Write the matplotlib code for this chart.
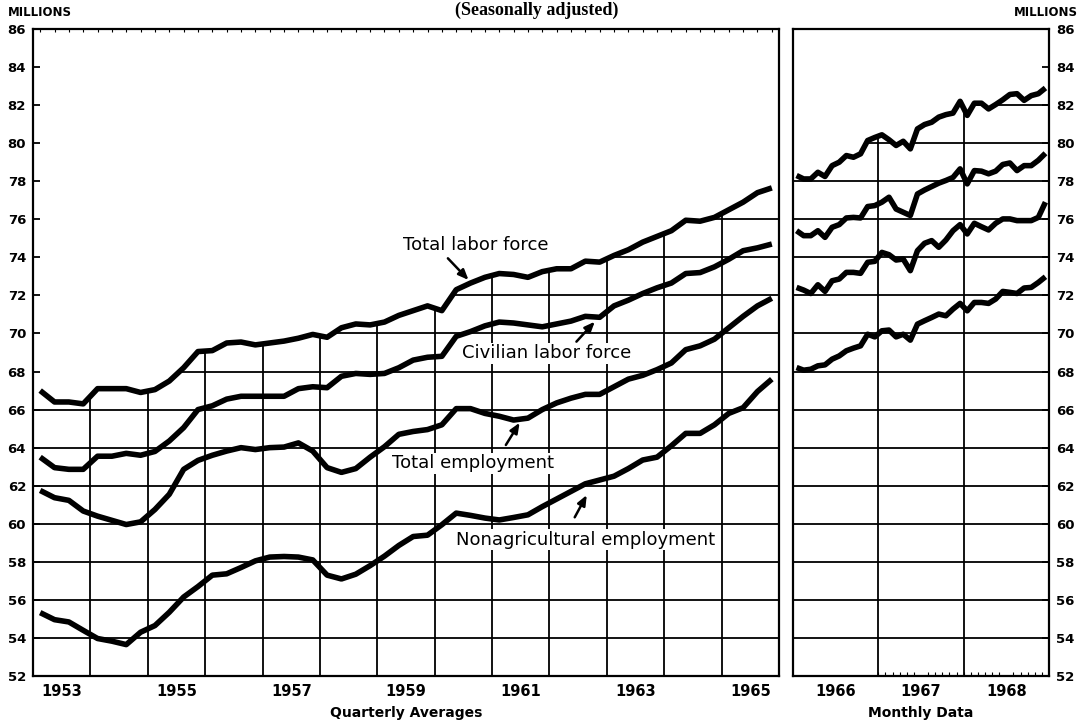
import numpy as np
import matplotlib
matplotlib.use("Agg")
import matplotlib.pyplot as plt
from matplotlib.patches import Polygon

# quarterly averages 1953-1965 (millions)
q_years = np.arange(1953, 1966)
total_labor_force_q = [67.0, 66.4, 66.4, 66.3, 67.1, 67.1, 67.1, 66.9, 67.05, 67.5, 68.2, 69.05,
                       69.1, 69.5, 69.55, 69.4, 69.5, 69.6, 69.75, 69.95, 69.8, 70.3, 70.5, 70.45,
                       70.6, 70.95, 71.2, 71.45, 71.2, 72.3, 72.65, 72.95, 73.15, 73.1, 72.95, 73.25,
                       73.4, 73.4, 73.8, 73.75, 74.1, 74.4, 74.8, 75.1, 75.4, 75.95, 75.9, 76.1,
                       76.5, 76.9, 77.4, 77.65]
civilian_labor_force_q = [63.5, 62.95, 62.86, 62.86, 63.55, 63.55, 63.7, 63.6, 63.8, 64.35, 65.05, 66.0,
                          66.2, 66.55, 66.7, 66.7, 66.7, 66.7, 67.1, 67.2, 67.15, 67.75, 67.9, 67.85,
                          67.9, 68.2, 68.6, 68.75, 68.8, 69.85, 70.1, 70.4, 70.6, 70.55, 70.45, 70.35,
                          70.5, 70.65, 70.9, 70.85, 71.45, 71.75, 72.1, 72.4, 72.65, 73.15, 73.2, 73.5,
                          73.9, 74.35, 74.5, 74.7]
total_employment_q = [61.75, 61.37, 61.23, 60.67, 60.4, 60.18, 59.96, 60.1, 60.75, 61.55, 62.86, 63.33,
                      63.6, 63.82, 64.0, 63.9, 64.0, 64.03, 64.25, 63.82, 62.95, 62.7, 62.9, 63.5,
                      64.05, 64.7, 64.85, 64.95, 65.2, 66.05, 66.05, 65.8, 65.65, 65.45, 65.55, 66.0,
                      66.35, 66.6, 66.8, 66.8, 67.2, 67.6, 67.8, 68.1, 68.45, 69.15, 69.35, 69.7,
                      70.3, 70.9, 71.45, 71.85]
nonag_employment_q = [55.33, 54.96, 54.84, 54.4, 53.97, 53.83, 53.65, 54.3, 54.65, 55.35, 56.15, 56.7,
                      57.3, 57.37, 57.7, 58.05, 58.25, 58.28, 58.25, 58.1, 57.3, 57.1, 57.35, 57.8,
                      58.3, 58.86, 59.33, 59.4, 59.95, 60.56, 60.44, 60.3, 60.2, 60.33, 60.47, 60.9,
                      61.3, 61.7, 62.1, 62.3, 62.5, 62.9, 63.35, 63.5, 64.1, 64.75, 64.75, 65.2,
                      65.8, 66.1, 66.95, 67.6]

# monthly data 1966-1968 (millions)
m_years = np.arange(1966, 1969)
total_labor_force_m = [78.3, 78.12, 78.12, 78.47, 78.25, 78.82, 79.0, 79.35, 79.26, 79.44, 80.14, 80.3,
                       80.44, 80.18, 79.88, 80.1, 79.7, 80.75, 80.98, 81.1, 81.37, 81.5, 81.58, 82.2,
                       81.46, 82.1, 82.1, 81.8, 82.03, 82.28, 82.56, 82.6, 82.25, 82.5, 82.6, 82.9]
civilian_labor_force_m = [75.4, 75.14, 75.14, 75.4, 75.05, 75.58, 75.72, 76.07, 76.1, 76.07, 76.67, 76.72,
                          76.9, 77.16, 76.54, 76.37, 76.2, 77.33, 77.54, 77.72, 77.9, 78.04, 78.2, 78.65,
                          77.86, 78.56, 78.53, 78.39, 78.53, 78.88, 78.96, 78.56, 78.82, 78.82, 79.1, 79.47]
total_employment_m = [72.42, 72.28, 72.1, 72.56, 72.21, 72.77, 72.86, 73.21, 73.21, 73.16, 73.74, 73.79,
                      74.26, 74.14, 73.86, 73.91, 73.3, 74.35, 74.74, 74.88, 74.53, 74.91, 75.4, 75.72,
                      75.23, 75.79, 75.61, 75.44, 75.79, 76.02, 76.02, 75.93, 75.93, 75.93, 76.1, 76.9]
nonag_employment_m = [68.21, 68.07, 68.12, 68.3, 68.35, 68.65, 68.82, 69.09, 69.23, 69.35, 69.96, 69.82,
                      70.14, 70.18, 69.82, 69.96, 69.65, 70.49, 70.67, 70.84, 71.02, 70.93, 71.28, 71.58,
                      71.19, 71.63, 71.63, 71.58, 71.81, 72.21, 72.16, 72.1, 72.39, 72.42, 72.68, 72.98]

y_ticks = np.arange(52, 87, 2)
LW = 4.0


def grid_below(ax, x, top, x0, x1, vyears):
    # grid only shows underneath the top curve, like the printed chart
    verts = [(x0, top[0])] + list(zip(x, top)) + [(x1, top[-1]), (x1, 52), (x0, 52)]
    clip = Polygon(verts, closed=True, transform=ax.transData, fill=False, lw=0)
    ax.add_patch(clip)
    h = ax.hlines(y_ticks[1:-1], x0, x1, colors="black", lw=1.3, zorder=1)
    v = ax.vlines(vyears, 52, 86, colors="black", lw=1.3, zorder=1)
    h.set_clip_path(clip)
    v.set_clip_path(clip)


fig = plt.figure(figsize=(10.87, 7.24), dpi=100)
ax1 = fig.add_axes([33 / 1087, 48 / 724, 746 / 1087, 647 / 724])
ax2 = fig.add_axes([793 / 1087, 48 / 724, 256 / 1087, 647 / 724])

# quarterly panel
xq = (q_years[:, None] + np.array([0.125, 0.375, 0.625, 0.875])).ravel()
for s in [total_labor_force_q, civilian_labor_force_q, total_employment_q, nonag_employment_q]:
    ax1.plot(xq, s, color="black", lw=LW, solid_joinstyle="round", solid_capstyle="butt", zorder=3)
grid_below(ax1, xq, total_labor_force_q, 1953, 1966, q_years[1:])
ax1.set_xlim(1953, 1966)
ax1.set_ylim(52, 86)
ax1.set_yticks(y_ticks)
ax1.set_xticks(q_years[::2] + 0.5)
ax1.set_xticklabels([str(y) for y in q_years[::2]])
ax1.set_xticks(xq, minor=True)
ax1.tick_params(axis="y", direction="in", length=5, width=1.3, pad=5, labelsize=9.5)
ax1.tick_params(axis="x", which="major", length=0, pad=6, labelsize=10.5)
ax1.tick_params(axis="x", which="minor", direction="in", length=2.5, width=0.8,
                top=True, bottom=False)

# monthly panel
xm = (m_years[:, None] + (np.arange(12) + 0.5) / 12).ravel()
for s in [total_labor_force_m, civilian_labor_force_m, total_employment_m, nonag_employment_m]:
    ax2.plot(xm, s, color="black", lw=LW, solid_joinstyle="round", solid_capstyle="butt", zorder=3)
grid_below(ax2, xm, total_labor_force_m, 1966, 1969, m_years[1:])
ax2.set_xlim(1966, 1969)
ax2.set_ylim(52, 86)
ax2.set_yticks(y_ticks)
ax2.yaxis.tick_right()
ax2.set_xticks(m_years + 0.5)
ax2.set_xticklabels([str(y) for y in m_years])
ax2.set_xticks(np.arange(1967, 1969, 1 / 12), minor=True)
ax2.tick_params(axis="y", direction="in", length=5, width=1.3, pad=5, labelsize=9.5)
ax2.tick_params(axis="x", which="major", length=0, pad=6, labelsize=10.5)
ax2.tick_params(axis="x", which="minor", direction="in", length=3, width=0.8)

for ax in (ax1, ax2):
    for sp in ax.spines.values():
        sp.set_linewidth(1.6)
    for lab in ax.get_xticklabels() + ax.get_yticklabels():
        lab.set_fontweight("bold")

# curve labels, knocked out of the grid
txt = dict(fontsize=13, color="black", va="center", ha="left", zorder=2,
           bbox=dict(facecolor="white", edgecolor="none", pad=1))
arr = dict(arrowstyle="-|>,head_length=0.6,head_width=0.25", color="black", lw=1.8, shrinkA=0, shrinkB=0)
ax1.text(1959.45, 74.65, "Total labor force", **txt)
ax1.annotate("", xy=(1960.59, 72.81), xytext=(1960.23, 73.95), arrowprops=arr)
ax1.text(1960.47, 68.97, "Civilian labor force", **txt)
ax1.annotate("", xy=(1962.79, 70.62), xytext=(1962.47, 69.57), arrowprops=arr)
ax1.text(1959.25, 63.19, "Total employment", **txt)
ax1.annotate("", xy=(1961.48, 65.31), xytext=(1961.24, 64.14), arrowprops=arr)
ax1.text(1960.37, 59.15, "Nonagricultural employment", **txt)
ax1.annotate("", xy=(1962.65, 61.51), xytext=(1962.44, 60.34), arrowprops=arr)

fig.text(8 / 1087, 1 - 13 / 724, "MILLIONS", fontsize=8.5, fontweight="bold", va="center", ha="left")
fig.text(1078 / 1087, 1 - 13 / 724, "MILLIONS", fontsize=8.5, fontweight="bold", va="center", ha="right")
fig.text(537 / 1087, 1 - 15 / 724, "(Seasonally adjusted)", fontsize=13, fontweight="bold",
         family="Liberation Serif", va="baseline", ha="center")
fig.text(406 / 1087, 1 - 713 / 724, "Quarterly Averages", fontsize=10, fontweight="bold",
         va="center", ha="center")
fig.text(921 / 1087, 1 - 713 / 724, "Monthly Data", fontsize=10, fontweight="bold",
         va="center", ha="center")

fig.savefig("out.png", dpi=100)
